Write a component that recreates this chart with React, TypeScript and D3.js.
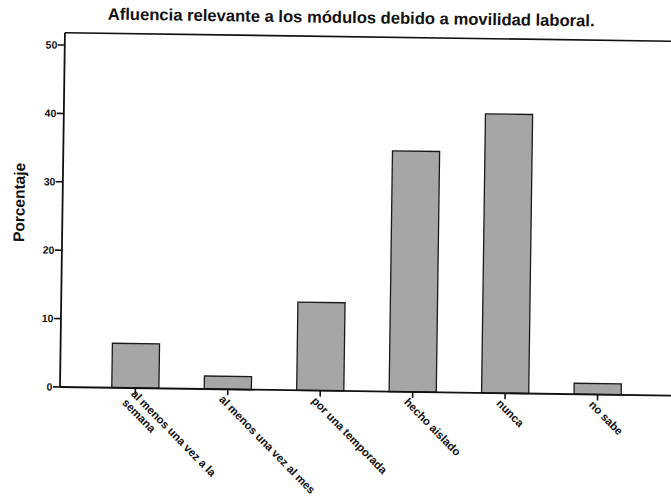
import React from "react";
import * as d3 from "d3";

const title = "Afluencia relevante a los módulos debido a movilidad laboral.";
const yAxisLabel = "Porcentaje";
const categories = [
  "al menos una vez a la semana",
  "al menos una vez al mes",
  "por una temporada",
  "hecho aislado",
  "nunca",
  "no sabe",
];
const categoryLines = [
  ["al menos una vez a la", "semana"],
  ["al menos una vez al mes"],
  ["por una temporada"],
  ["hecho aislado"],
  ["nunca"],
  ["no sabe"],
];
const percentages = [6.5, 1.9, 12.9, 35.2, 40.8, 1.6];
const yTicks = [0, 10, 20, 30, 40, 50];

const W = 671;
const H = 499;
const LEFT = 60;
const RIGHT = 673;
const BASE = 387;
const TOP50 = 45;
const FONT = "'Liberation Sans', Arial, Helvetica, sans-serif";

export default function App() {
  const y = d3.scaleLinear().domain([0, 50]).range([BASE, TOP50]);
  const x = d3
    .scaleBand<string>()
    .domain(categories)
    .range([LEFT, RIGHT])
    .paddingInner(0.49)
    .paddingOuter(0.56);
  const frameTop = y(51.8);
  const lh = 12.5;

  return (
    <svg
      width={W}
      height={H}
      style={{ position: "absolute", left: 0, top: 0, background: "#fff" }}
    >
      <rect x={0} y={0} width={W} height={H} fill="#fff" />
      <g transform={`rotate(0.8 ${LEFT} ${BASE})`}>
        <text
          x={346}
          y={19}
          textAnchor="middle"
          fontFamily={FONT}
          fontWeight="bold"
          fontSize={16.6}
          fill="#111"
        >
          {title}
        </text>
        {/* frame */}
        <line x1={LEFT} x2={RIGHT} y1={frameTop} y2={frameTop} stroke="#111" strokeWidth={1.6} />
        <line x1={RIGHT} x2={RIGHT} y1={frameTop} y2={BASE} stroke="#111" strokeWidth={1.6} />
        {/* bars */}
        {categories.map((c, i) => (
          <rect
            key={c}
            x={x(c)}
            y={y(percentages[i])}
            width={x.bandwidth()}
            height={BASE - y(percentages[i])}
            fill="#a6a6a6"
            stroke="#1a1a1a"
            strokeWidth={1.3}
          />
        ))}
        {/* y axis */}
        <line x1={LEFT} x2={LEFT} y1={frameTop} y2={BASE} stroke="#111" strokeWidth={1.8} />
        {yTicks.map((t) => (
          <g key={t}>
            <line x1={LEFT - 7} x2={LEFT} y1={y(t)} y2={y(t)} stroke="#111" strokeWidth={1.6} />
            <text
              x={LEFT - 7.5}
              y={y(t)}
              dy="0.35em"
              textAnchor="end"
              fontFamily={FONT}
              fontWeight="bold"
              fontSize={10.5}
              fill="#111"
            >
              {t}
            </text>
          </g>
        ))}
        <text
          transform={`translate(22 ${203}) rotate(-90)`}
          textAnchor="middle"
          fontFamily={FONT}
          fontWeight="bold"
          fontSize={15.5}
          fill="#111"
        >
          {yAxisLabel}
        </text>
        {/* x axis */}
        <line x1={LEFT} x2={RIGHT} y1={BASE} y2={BASE} stroke="#111" strokeWidth={1.8} />
        {categories.map((c, i) => {
          const cx = (x(c) as number) + x.bandwidth() / 2;
          const lines = categoryLines[i];
          const off = -((lines.length - 1) / 2) * lh;
          return (
            <g key={c}>
              <line x1={cx} x2={cx} y1={BASE} y2={BASE + 6} stroke="#111" strokeWidth={1.6} />
              <g transform={`translate(${cx - 1} ${BASE + 7}) rotate(45)`}>
                {lines.map((ln, j) => (
                  <text
                    key={j}
                    x={-3}
                    y={off + j * lh}
                    dy="0.75em"
                    fontFamily={FONT}
                    fontWeight="bold"
                    fontSize={11.3}
                    fill="#111"
                  >
                    {ln}
                  </text>
                ))}
              </g>
            </g>
          );
        })}
      </g>
    </svg>
  );
}
